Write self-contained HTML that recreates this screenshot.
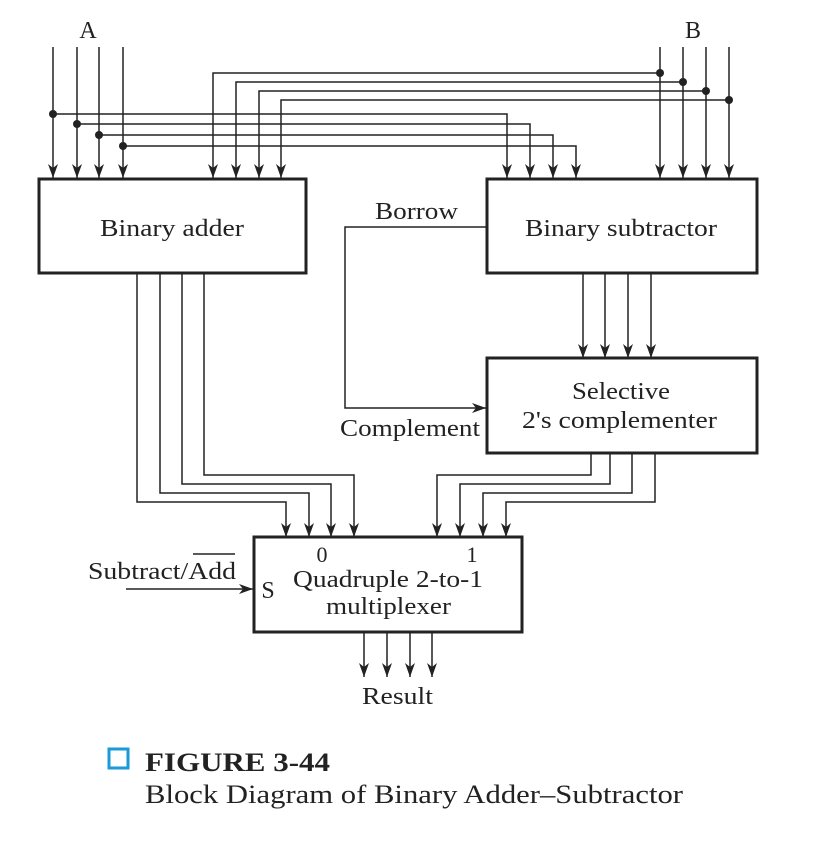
<!DOCTYPE html>
<html><head><meta charset="utf-8"><style>
html,body{margin:0;padding:0;background:#fff;width:835px;height:842px;overflow:hidden}
svg text{font-family:"Liberation Serif",serif;fill:#222}
</style></head><body>
<svg width="835" height="842" viewBox="0 0 835 842" xmlns="http://www.w3.org/2000/svg">
<g stroke="#222" stroke-width="1.5" fill="none">
<path d="M53 47V178M77 47V178M99 47V178M123 47V178"/>
<path d="M53 114H507V178M77 124H530V178M99 135H553V178M123 146H576V178"/>
<path d="M660 47V178M683 47V178M706 47V178M729 47V178"/>
<path d="M660 73H213V178M683 82H236V178M706 91H259V178M729 100H281V178"/>
<path d="M583 273V358M605 273V358M628 273V358M651 273V358"/>
<path d="M137 273V502H286V537M160 273V493H309V537M182 273V484H331V537M204 273V475H354V537"/>
<path d="M591 453V475H437V537M610 453V484H460V537M632 453V493H483V537M655 453V502H506V537"/>
<path d="M486 227H345V408H486"/>
<path d="M126 589H253"/>
<path d="M364 632V677M387 632V677M410 632V677M432 632V677"/>
</g>
<g fill="#222">
<circle cx="53" cy="114" r="4"/><circle cx="77" cy="124" r="4"/><circle cx="99" cy="135" r="4"/><circle cx="123" cy="146" r="4"/>
<circle cx="660" cy="73" r="4"/><circle cx="683" cy="82" r="4"/><circle cx="706" cy="91" r="4"/><circle cx="729" cy="100" r="4"/>
</g>
<g fill="#222">
<path d="M53 178l-5-14l5 4l5-4zM77 178l-5-14l5 4l5-4zM99 178l-5-14l5 4l5-4zM123 178l-5-14l5 4l5-4z"/>
<path d="M213 178l-5-14l5 4l5-4zM236 178l-5-14l5 4l5-4zM259 178l-5-14l5 4l5-4zM281 178l-5-14l5 4l5-4z"/>
<path d="M507 178l-5-14l5 4l5-4zM530 178l-5-14l5 4l5-4zM553 178l-5-14l5 4l5-4zM576 178l-5-14l5 4l5-4z"/>
<path d="M660 178l-5-14l5 4l5-4zM683 178l-5-14l5 4l5-4zM706 178l-5-14l5 4l5-4zM729 178l-5-14l5 4l5-4z"/>
<path d="M583 358l-5-14l5 4l5-4zM605 358l-5-14l5 4l5-4zM628 358l-5-14l5 4l5-4zM651 358l-5-14l5 4l5-4z"/>
<path d="M286 537l-5-14l5 4l5-4zM309 537l-5-14l5 4l5-4zM331 537l-5-14l5 4l5-4zM354 537l-5-14l5 4l5-4z"/>
<path d="M437 537l-5-14l5 4l5-4zM460 537l-5-14l5 4l5-4zM483 537l-5-14l5 4l5-4zM506 537l-5-14l5 4l5-4z"/>
<path d="M364 677l-5-14l5 4l5-4zM387 677l-5-14l5 4l5-4zM410 677l-5-14l5 4l5-4zM432 677l-5-14l5 4l5-4z"/>
<path d="M486 408l-14-5l4 5l-4 5zM253 589l-14-5l4 5l-4 5z"/>
</g>
<g stroke="#222" stroke-width="3" fill="#fff">
<rect x="39" y="179" width="267" height="94"/>
<rect x="487" y="179" width="270" height="94"/>
<rect x="487" y="358" width="270" height="95"/>
<rect x="254" y="537" width="268" height="95"/>
</g>
<g font-size="24" lengthAdjust="spacingAndGlyphs">
<text x="88" y="38" text-anchor="middle">A</text>
<text x="693" y="38" text-anchor="middle">B</text>
<text x="100" y="236" textLength="144" lengthAdjust="spacingAndGlyphs">Binary adder</text>
<text x="525" y="236" textLength="192" lengthAdjust="spacingAndGlyphs">Binary subtractor</text>
<text x="375" y="219" textLength="83" lengthAdjust="spacingAndGlyphs">Borrow</text>
<text x="572" y="399" textLength="98" lengthAdjust="spacingAndGlyphs">Selective</text>
<text x="522" y="428" textLength="195" lengthAdjust="spacingAndGlyphs">2's complementer</text>
<text x="340" y="436" textLength="140" lengthAdjust="spacingAndGlyphs">Complement</text>
<text x="322" y="562" text-anchor="middle" font-size="22">0</text>
<text x="472" y="562" text-anchor="middle" font-size="22">1</text>
<text x="268" y="598" text-anchor="middle">S</text>
<text x="293" y="587" textLength="190" lengthAdjust="spacingAndGlyphs">Quadruple 2-to-1</text>
<text x="326" y="614" textLength="125" lengthAdjust="spacingAndGlyphs">multiplexer</text>
<text x="88" y="579" textLength="148" lengthAdjust="spacingAndGlyphs">Subtract/Add</text>
<text x="362" y="704" textLength="71" lengthAdjust="spacingAndGlyphs">Result</text>
</g>
<path d="M193 554H235" stroke="#222" stroke-width="1.5"/>
<rect x="109" y="749" width="19" height="19" fill="none" stroke="#1a9ad6" stroke-width="3"/>
<text x="145" y="771" font-size="26" font-weight="bold" textLength="185" lengthAdjust="spacingAndGlyphs">FIGURE 3-44</text>
<text x="145" y="803" font-size="26" textLength="538" lengthAdjust="spacingAndGlyphs">Block Diagram of Binary Adder–Subtractor</text>
</svg>
</body></html>
